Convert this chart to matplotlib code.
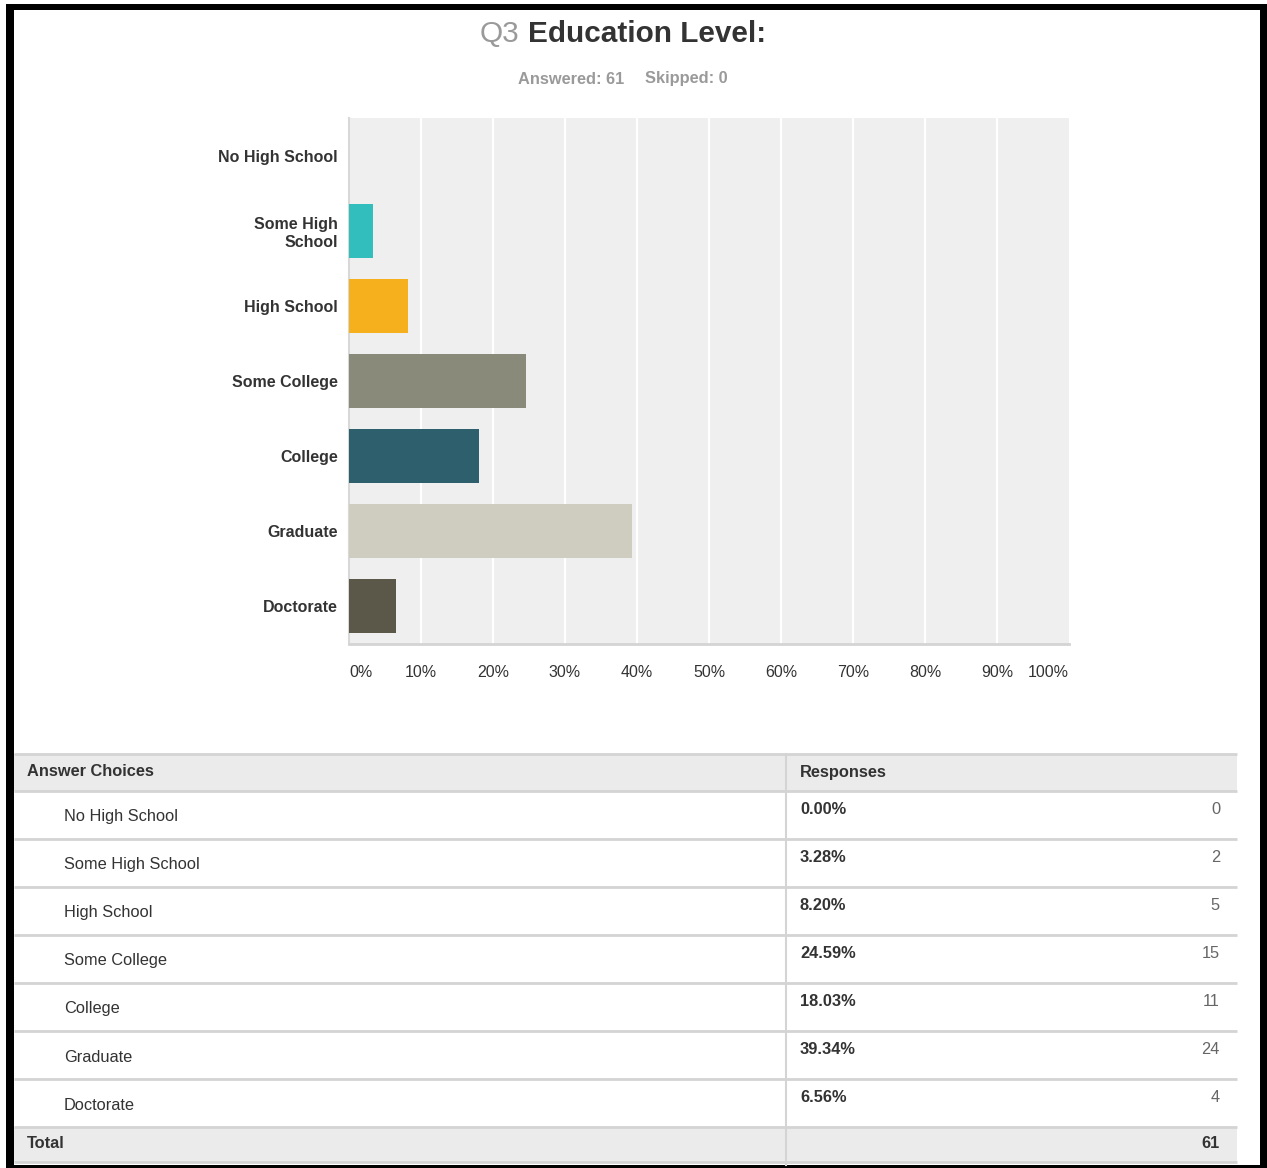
import numpy as np
import matplotlib.pyplot as plt
from matplotlib.patches import Rectangle

plt.rcParams['font.family'] = ['Liberation Sans', 'DejaVu Sans']

# survey data
categories = ['No High School', 'Some High School', 'High School', 'Some College',
              'College', 'Graduate', 'Doctorate']
axis_labels = ['No High School', 'Some High\nSchool', 'High School', 'Some College',
               'College', 'Graduate', 'Doctorate']
percents = [0.00, 3.28, 8.20, 24.59, 18.03, 39.34, 6.56]
counts = [0, 2, 5, 15, 11, 24, 4]
bar_colors = ['#3dbdbd', '#33bebe', '#f6b01e', '#898a79', '#2d5f6c', '#cfcdbf', '#5b584a']
x_ticks = [0, 10, 20, 30, 40, 50, 60, 70, 80, 90, 100]
answered = 61
skipped = 0

W, H = 1267, 1168
fig = plt.figure(figsize=(W / 100, H / 100), dpi=100)
fig.patch.set_facecolor('white')

def px_axes(x0, y0, x1, y1):
    return fig.add_axes([x0 / W, 1 - y1 / H, (x1 - x0) / W, (y1 - y0) / H])

# overlay in pixel coords for title, table and frame
ov = px_axes(0, 0, W, H)
ov.set_xlim(0, W)
ov.set_ylim(H, 0)
ov.axis('off')
ov.set_zorder(0)

# title
ov.text(480, 34, 'Q3', fontsize=21.4, color='#9a9a9a', ha='left', va='center')
ov.text(528, 34, 'Education Level:', fontsize=21.4, fontweight='bold', color='#333333',
        ha='left', va='center')
ov.text(518, 79, f'Answered: {answered}', fontsize=11.8, fontweight='bold', color='#9a9a9a',
        ha='left', va='center')
ov.text(645, 79, f'Skipped: {skipped}', fontsize=11.8, fontweight='bold', color='#9a9a9a',
        ha='left', va='center')

# bar chart
ax = px_axes(349, 118, 1069, 644)
ax.set_zorder(2)
ax.set_facecolor('#efefef')
y = np.arange(len(categories))
ax.barh(y, percents, height=0.72, color=bar_colors, edgecolor='none', zorder=3)
ax.set_xlim(0, 100)
ax.set_ylim(len(categories) - 0.5, -0.5)
for t in x_ticks[1:-1]:
    ax.axvline(t, color='white', lw=1.6, zorder=1)
for s in ['top', 'right']:
    ax.spines[s].set_visible(False)
ax.spines['left'].set_color('#d8d8d8')
ax.spines['left'].set_linewidth(1.5)
ax.spines['bottom'].set_color('#d4d4d4')
ax.spines['bottom'].set_linewidth(2)
ax.set_yticks(y)
ax.set_yticklabels(axis_labels, fontsize=11.5, fontweight='bold', color='#333333',
                   linespacing=1.25)
ax.tick_params(axis='y', length=0, pad=8)
ax.set_xticks(x_ticks)
ax.set_xticklabels([f'{t}%' for t in x_ticks], fontsize=11.5, color='#333333')
ax.tick_params(axis='x', length=0, pad=15)
xl = ax.get_xticklabels()
xl[0].set_ha('left')
xl[-1].set_ha('right')

# table
tx0, tx1, col = 14, 1237, 786
hdr_top, hdr_bot = 754, 791
row_h = 48
n = len(categories)
tot_top = hdr_bot + n * row_h
tot_bot = tot_top + 35
ov.add_patch(Rectangle((tx0, hdr_top), tx1 - tx0, hdr_bot - hdr_top, color='#ebebeb', lw=0))
ov.add_patch(Rectangle((tx0, tot_top), tx1 - tx0, tot_bot - tot_top, color='#ebebeb', lw=0))
line_c = '#d4d4d4'
for yy in [hdr_top, hdr_bot] + [hdr_bot + (i + 1) * row_h for i in range(n)] + [tot_bot]:
    ov.plot([tx0, tx1], [yy, yy], color=line_c, lw=2, solid_capstyle='butt')
ov.plot([col, col], [hdr_top, H - 3], color=line_c, lw=1.5)

ov.text(27, 772, 'Answer Choices', fontsize=11.8, fontweight='bold', color='#333333',
        ha='left', va='center')
ov.text(800, 772, 'Responses', fontsize=11.8, fontweight='bold', color='#333333',
        ha='left', va='center')
for i, (c, p, k) in enumerate(zip(categories, percents, counts)):
    top = hdr_bot + i * row_h
    ov.text(64, top + 26, c, fontsize=11.8, color='#333333', ha='left', va='center')
    ov.text(800, top + 18, f'{p:.2f}%', fontsize=11.8, fontweight='bold', color='#333333',
            ha='left', va='center')
    ov.text(1220, top + 18, str(k), fontsize=11.8, color='#666666', ha='right', va='center')
ov.text(27, 1143, 'Total', fontsize=11.8, fontweight='bold', color='#333333',
        ha='left', va='center')
ov.text(1220, 1143, str(sum(counts)), fontsize=11.8, fontweight='bold', color='#333333',
        ha='right', va='center')

# black frame around the screenshot
ov.add_patch(Rectangle((6, 4), 8, H - 4, color='black', lw=0))
ov.add_patch(Rectangle((6, 4), W - 6, 6, color='black', lw=0))
ov.add_patch(Rectangle((1260, 4), 7, H - 4, color='black', lw=0))
ov.add_patch(Rectangle((6, 1165), W - 6, 3, color='black', lw=0))

fig.savefig('out.png', dpi=100)
